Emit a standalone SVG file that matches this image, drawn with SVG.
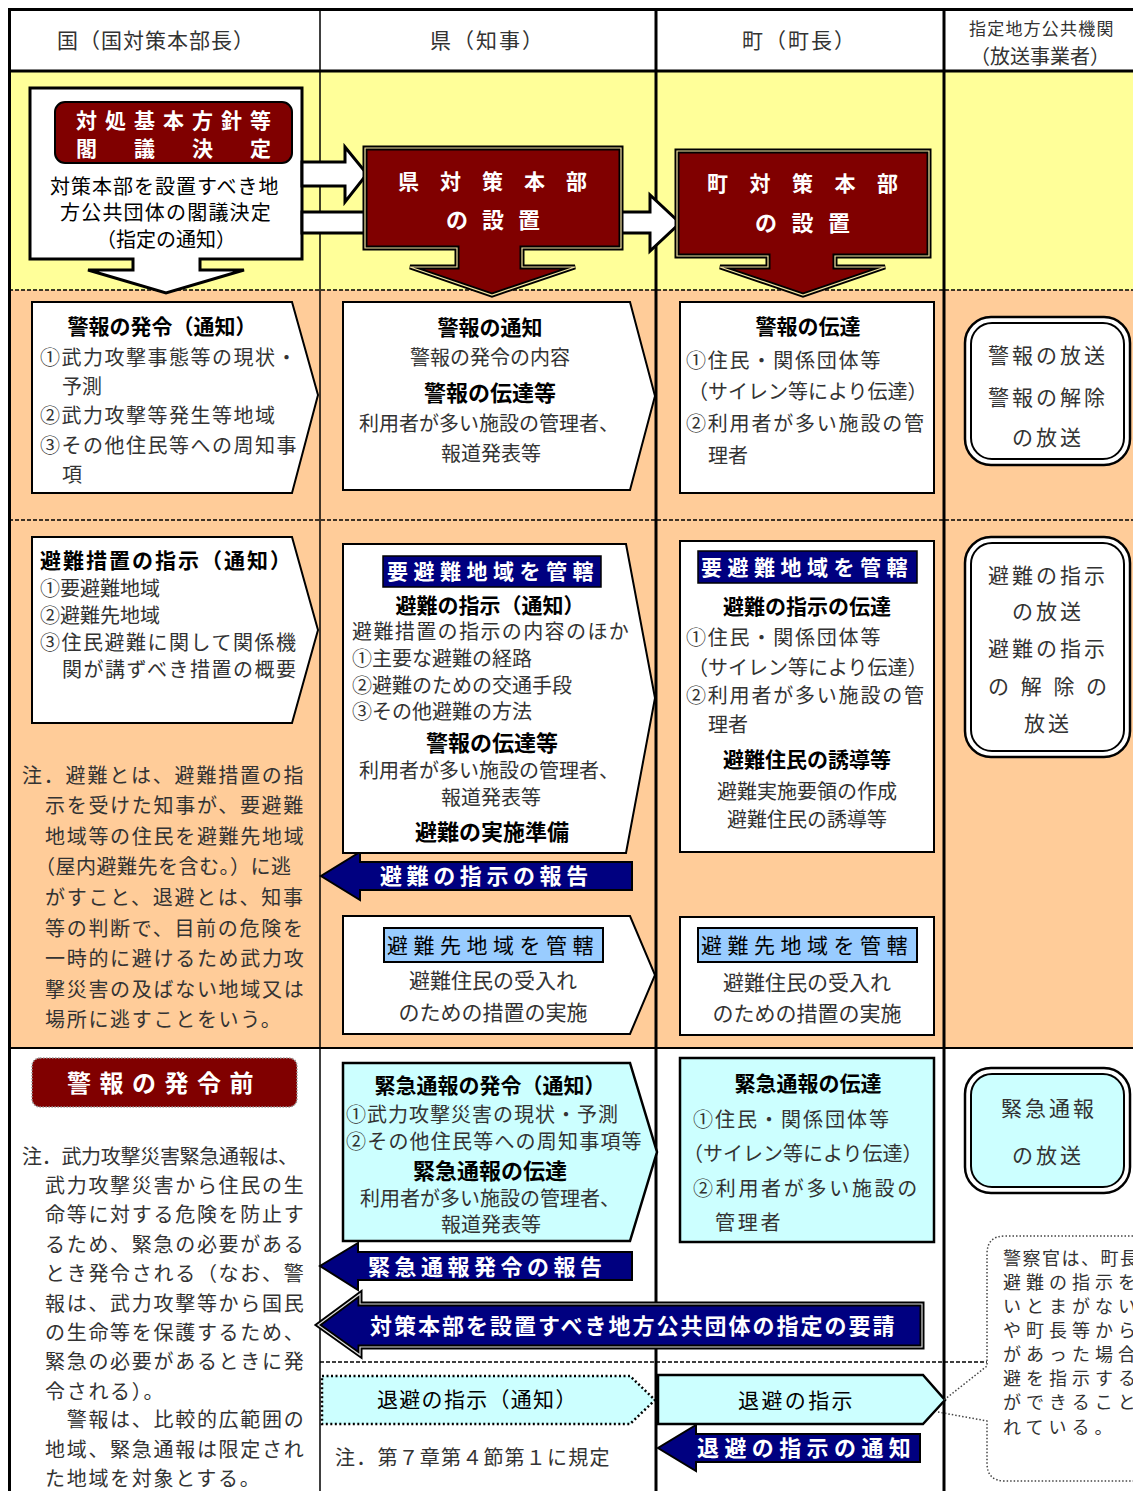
<svg xmlns="http://www.w3.org/2000/svg" width="1133" height="1491" viewBox="0 0 1133 1491">
<style>
text{font-family:"Noto Sans CJK JP","Noto Sans",sans-serif;font-size:20px;fill:#333}
.c{text-anchor:middle}
.b{font-weight:bold;fill:#000}
.w{fill:#fff;font-weight:bold}
.k{fill:#000}
.box{fill:#fff;stroke:#000;stroke-width:2}
.box3{fill:#fff;stroke:#000;stroke-width:3}
.cy{fill:#ccffff;stroke:#000;stroke-width:2.5}
.red{fill:#800000;stroke:#000;stroke-width:5}
.redin{fill:none;stroke:#f3e3a0;stroke-width:1.2}
.nv{fill:#000080;stroke:#000;stroke-width:2}
.nv2{fill:#000080;stroke:#000;stroke-width:5}
.nvin{fill:none;stroke:#ddd;stroke-width:1.2}
.wa{fill:#fff;stroke:#000;stroke-width:3}
.g{stroke:#000;fill:none}
.d{stroke-dasharray:4 2}
.lb{fill:#000080;stroke:#000;stroke-width:1.5}
.lb2{fill:#99ccff;stroke:#000;stroke-width:2}
.bc1{stroke:#000;stroke-width:2.5}
.bc2{stroke:#000;stroke-width:2}
.co{font-size:18px;letter-spacing:5px}
</style>

<g id="background">
<rect x="9" y="9" width="1124" height="62" fill="#fff"/>
<rect x="9" y="71" width="1124" height="219" fill="#ffff99"/>
<rect x="9" y="290" width="1124" height="758" fill="#ffcc99"/>
<rect x="9" y="1048" width="1124" height="443" fill="#fff"/>
</g>

<g id="grid">
<line class="g" x1="8" y1="9.5" x2="1133" y2="9.5" stroke-width="3"/>
<line class="g" x1="9.5" y1="8" x2="9.5" y2="1491" stroke-width="3"/>
<line class="g" x1="8" y1="71" x2="1133" y2="71" stroke-width="3"/>
<line class="g" x1="320" y1="9" x2="320" y2="1491" stroke-width="1.5"/>
<line class="g" x1="656" y1="9" x2="656" y2="1491" stroke-width="3"/>
<line class="g" x1="944" y1="9" x2="944" y2="1491" stroke-width="3"/>
<line class="g d" x1="9" y1="290" x2="1133" y2="290" stroke-width="1.5"/>
<line class="g d" x1="9" y1="520" x2="1133" y2="520" stroke-width="1.5"/>
<line class="g" x1="9" y1="1048" x2="1133" y2="1048" stroke-width="2"/>
<line class="g d" x1="320" y1="1362" x2="987" y2="1362" stroke-width="1.5"/>
</g>

<g id="headers">
<text x="57" y="48" style="font-size:21px;letter-spacing:1px">国（国対策本部長）</text>
<text x="430" y="48" style="font-size:21px;letter-spacing:2px">県（知事）</text>
<text x="742" y="48" style="font-size:21px;letter-spacing:2px">町（町長）</text>
<text x="969" y="35" style="font-size:17px;letter-spacing:1.2px">指定地方公共機関</text>
<text x="970" y="64" style="font-size:20px">（放送事業者）</text>
</g>

<g id="kuni-kakugi">
<polygon class="box3" points="30,88 302,88 302,259 200,259 200,270 244,270 166,293 88,270 133,270 133,259 30,259"/>
<rect x="55" y="102" width="237" height="61" rx="10" fill="#800000" stroke="#000" stroke-width="2"/>
<text class="w" x="76" y="128" style="font-size:21px;letter-spacing:8px">対処基本方針等</text>
<text class="w" x="76" y="156" style="font-size:21px;letter-spacing:37px">閣議決定</text>
<text class="k" x="50" y="194" style="letter-spacing:1px">対策本部を設置すべき地</text>
<text class="k" x="60" y="220" style="letter-spacing:1.2px">方公共団体の閣議決定</text>
<text class="k c" x="166" y="247">（指定の通知）</text>
</g>

<g id="connectors">
<polygon class="wa" points="302,162 345,162 345,147 367,174 345,202 345,186 302,186"/>
<polygon class="wa" points="302,212 650,212 650,195 680,223 650,251 650,233 302,233"/>
<g id="arrow-hinan-houkoku">
<polygon class="nv" points="632,862 360,862 360,852 321,876 360,900 360,890 632,890"/>
<text class="w" x="380" y="884" style="font-size:22px;letter-spacing:4.6px">避難の指示の報告</text>
</g>
<g id="arrow-kinkyu-houkoku">
<polygon class="nv" points="632,1252 358,1252 358,1243 320,1266 358,1290 358,1280 632,1280"/>
<text class="w" x="368" y="1275" style="font-size:22px;letter-spacing:4.5px">緊急通報発令の報告</text>
</g>
<g id="arrow-shitei-yousei">
<polygon class="nv2" points="922,1304 360,1304 360,1294 318,1325 360,1355 360,1347 922,1347"/>
<polygon class="nvin" points="922,1304 360,1304 360,1294 318,1325 360,1355 360,1347 922,1347"/>
<text class="w" x="370" y="1334" style="font-size:22px;letter-spacing:2px">対策本部を設置すべき地方公共団体の指定の要請</text>
</g>
<g id="arrow-taihi-tsuchi">
<polygon class="nv" points="920,1434 696,1434 696,1425 658,1448 696,1471 696,1462 920,1462"/>
<text class="w" x="697" y="1456" style="font-size:22px;letter-spacing:5.4px">退避の指示の通知</text>
</g>
</g>

<g id="ken-honbu">
<polygon class="red" points="365,148 621,148 621,248 522,248 522,267 575,267 492,295 410,267 457,267 457,248 365,248"/>
<polygon class="redin" points="365,148 621,148 621,248 522,248 522,267 575,267 492,295 410,267 457,267 457,248 365,248"/>
<text class="w" x="398" y="189" style="font-size:21px;letter-spacing:21px">県対策本部</text>
<text class="w" x="446" y="228" style="font-size:22px;letter-spacing:14px">の設置</text>
</g>

<g id="machi-honbu">
<polygon class="red" points="677,151 929,151 929,256 835,256 835,267 885,267 803,295 720,267 768,267 768,256 677,256"/>
<polygon class="redin" points="677,151 929,151 929,256 835,256 835,267 885,267 803,295 720,267 768,267 768,256 677,256"/>
<text class="w" x="707" y="191" style="font-size:21px;letter-spacing:21.5px">町対策本部</text>
<text class="w" x="755" y="231" style="font-size:22px;letter-spacing:14.5px">の設置</text>
</g>

<g id="kuni-keihou">
<polygon class="box" points="32,302 292,302 318,395 292,493 32,493"/>
<text class="b c" x="162" y="334" style="font-size:21px">警報の発令（通知）</text>
<text x="40" y="365" style="letter-spacing:1.5px">①武力攻撃事態等の現状・</text>
<text x="62" y="394">予測</text>
<text x="40" y="423" style="letter-spacing:1.5px">②武力攻撃等発生等地域</text>
<text x="40" y="453" style="letter-spacing:1.5px">③その他住民等への周知事</text>
<text x="62" y="482">項</text>
</g>

<g id="ken-keihou">
<polygon class="box" points="343,302 630,302 655,396 630,490 343,490"/>
<text class="b c" x="490" y="335" style="font-size:21px">警報の通知</text>
<text class="c" x="490" y="365">警報の発令の内容</text>
<text class="b c" x="490" y="401" style="font-size:22px">警報の伝達等</text>
<text class="c" x="489" y="431">利用者が多い施設の管理者、</text>
<text class="c" x="491" y="461">報道発表等</text>
</g>

<g id="machi-keihou">
<rect class="box" x="680" y="302" width="254" height="191"/>
<text class="b c" x="808" y="334" style="font-size:21px">警報の伝達</text>
<text x="686" y="368" style="letter-spacing:1.8px">①住民・関係団体等</text>
<text x="688" y="399">（サイレン等により伝達）</text>
<text x="686" y="431" style="letter-spacing:1.8px">②利用者が多い施設の管</text>
<text x="708" y="463">理者</text>
</g>

<g id="housou-keihou">
<rect class="bc1" x="965" y="317" width="165" height="148" rx="26" fill="#fff"/>
<rect class="bc2" x="971" y="323" width="153" height="136" rx="21" fill="#fff"/>
<text x="988" y="363" style="font-size:21px;letter-spacing:3px">警報の放送</text>
<text x="988" y="405" style="font-size:21px;letter-spacing:3px">警報の解除</text>
<text x="1012" y="445" style="font-size:21px;letter-spacing:3px">の放送</text>
</g>

<g id="kuni-hinan">
<polygon class="box" points="32,537 292,537 318,630 292,723 32,723"/>
<text class="b" x="40" y="568" style="font-size:21px;letter-spacing:2px">避難措置の指示（通知）</text>
<text x="40" y="596">①要避難地域</text>
<text x="40" y="623">②避難先地域</text>
<text x="40" y="650" style="letter-spacing:1.5px">③住民避難に関して関係機</text>
<text x="62" y="677" style="letter-spacing:1.5px">関が講ずべき措置の概要</text>
</g>

<g id="note-hinan">
<text x="22" y="783" style="letter-spacing:1.8px">注．避難とは、避難措置の指</text>
<text x="45" y="813" style="letter-spacing:1.7px">示を受けた知事が、要避難</text>
<text x="45" y="844" style="letter-spacing:1.7px">地域等の住民を避難先地域</text>
<text x="35" y="874" style="letter-spacing:0.5px">（屋内避難先を含む。）に逃</text>
<text x="45" y="905" style="letter-spacing:1.7px">がすこと、退避とは、知事</text>
<text x="45" y="936" style="letter-spacing:1.7px">等の判断で、目前の危険を</text>
<text x="45" y="966" style="letter-spacing:1.7px">一時的に避けるため武力攻</text>
<text x="45" y="997" style="letter-spacing:1.7px">撃災害の及ばない地域又は</text>
<text x="45" y="1027" style="letter-spacing:1.7px">場所に逃すことをいう。</text>
</g>

<g id="ken-hinan">
<polygon class="box" points="343,544 626,544 655,698 626,853 343,853"/>
<rect class="lb" x="383" y="556" width="218" height="31"/>
<text class="w" x="387" y="579" style="font-size:21px;letter-spacing:5.5px">要避難地域を管轄</text>
<text class="b c" x="490" y="613" style="font-size:21px">避難の指示（通知）</text>
<text x="352" y="639" style="letter-spacing:1.4px">避難措置の指示の内容のほか</text>
<text x="352" y="666">①主要な避難の経路</text>
<text x="352" y="693">②避難のための交通手段</text>
<text x="352" y="719">③その他避難の方法</text>
<text class="b c" x="492" y="751" style="font-size:22px">警報の伝達等</text>
<text class="c" x="489" y="778">利用者が多い施設の管理者、</text>
<text class="c" x="491" y="805">報道発表等</text>
<text class="b c" x="492" y="840" style="font-size:22px">避難の実施準備</text>
</g>

<g id="machi-hinan">
<rect class="box" x="680" y="541" width="254" height="311"/>
<rect class="lb" x="698" y="551" width="219" height="32"/>
<text class="w" x="701" y="575" style="font-size:21px;letter-spacing:5.5px">要避難地域を管轄</text>
<text class="b c" x="807" y="614" style="font-size:21px">避難の指示の伝達</text>
<text x="686" y="645" style="letter-spacing:1.8px">①住民・関係団体等</text>
<text x="688" y="675">（サイレン等により伝達）</text>
<text x="686" y="703" style="letter-spacing:1.8px">②利用者が多い施設の管</text>
<text x="708" y="732">理者</text>
<text class="b c" x="807" y="767" style="font-size:21px">避難住民の誘導等</text>
<text class="c" x="807" y="799">避難実施要領の作成</text>
<text class="c" x="807" y="827">避難住民の誘導等</text>
</g>

<g id="housou-hinan">
<rect class="bc1" x="965" y="537" width="165" height="220" rx="26" fill="#fff"/>
<rect class="bc2" x="971" y="543" width="153" height="208" rx="21" fill="#fff"/>
<text x="988" y="583" style="font-size:21px;letter-spacing:3px">避難の指示</text>
<text x="1012" y="619" style="font-size:21px;letter-spacing:3px">の放送</text>
<text x="988" y="656" style="font-size:21px;letter-spacing:3px">避難の指示</text>
<text x="988" y="694" style="font-size:21px;letter-spacing:11.7px">の解除の</text>
<text x="1024" y="731" style="font-size:21px;letter-spacing:3px">放送</text>
</g>

<g id="ken-ukeire">
<polygon class="box" points="343,916 630,916 655,975 630,1034 343,1034"/>
<rect class="lb2" x="384" y="928" width="219" height="34"/>
<text class="k" x="387" y="953" style="font-size:21px;letter-spacing:5.5px">避難先地域を管轄</text>
<text class="c" x="493" y="988" style="font-size:21px">避難住民の受入れ</text>
<text class="c" x="493" y="1020" style="font-size:21px">のための措置の実施</text>
</g>

<g id="machi-ukeire">
<rect class="box" x="680" y="917" width="254" height="118"/>
<rect class="lb2" x="698" y="928" width="219" height="34"/>
<text class="k" x="701" y="953" style="font-size:21px;letter-spacing:5.5px">避難先地域を管轄</text>
<text class="c" x="807" y="990" style="font-size:21px">避難住民の受入れ</text>
<text class="c" x="807" y="1021" style="font-size:21px">のための措置の実施</text>
</g>

<g id="keihou-hatsureimae">
<rect x="32" y="1058" width="265" height="49" rx="8" fill="#800000" stroke="#999" stroke-width="1.5" stroke-dasharray="1.5 1.5"/>
<text class="w" x="67" y="1092" style="font-size:24px;letter-spacing:8.5px">警報の発令前</text>
</g>

<g id="note-kinkyu">
<text x="22" y="1164" style="letter-spacing:-0.3px">注．武力攻撃災害緊急通報は、</text>
<text x="45" y="1193" style="letter-spacing:1.7px">武力攻撃災害から住民の生</text>
<text x="45" y="1222" style="letter-spacing:1.7px">命等に対する危険を防止す</text>
<text x="45" y="1252" style="letter-spacing:1.7px">るため、緊急の必要がある</text>
<text x="45" y="1281" style="letter-spacing:1.7px">とき発令される（なお、警</text>
<text x="45" y="1311" style="letter-spacing:1.7px">報は、武力攻撃等から国民</text>
<text x="45" y="1340" style="letter-spacing:1.7px">の生命等を保護するため、</text>
<text x="45" y="1369" style="letter-spacing:1.7px">緊急の必要があるときに発</text>
<text x="45" y="1399" style="letter-spacing:1.7px">令される）。</text>
<text x="45" y="1427" style="letter-spacing:1.7px">　警報は、比較的広範囲の</text>
<text x="45" y="1457" style="letter-spacing:1.7px">地域、緊急通報は限定され</text>
<text x="45" y="1486" style="letter-spacing:1.7px">た地域を対象とする。</text>
</g>

<g id="ken-kinkyu">
<polygon class="cy" points="343,1063 630,1063 657,1152 630,1241 343,1241"/>
<text class="b c" x="490" y="1093" style="font-size:21px">緊急通報の発令（通知）</text>
<text x="346" y="1122" style="letter-spacing:1px">①武力攻撃災害の現状・予測</text>
<text x="346" y="1149" style="letter-spacing:1.2px">②その他住民等への周知事項等</text>
<text class="b c" x="490" y="1179" style="font-size:22px">緊急通報の伝達</text>
<text class="c" x="490" y="1206">利用者が多い施設の管理者、</text>
<text class="c" x="491" y="1232">報道発表等</text>
</g>

<g id="machi-kinkyu">
<rect class="cy" x="680" y="1058" width="254" height="184"/>
<text class="b c" x="808" y="1091" style="font-size:21px">緊急通報の伝達</text>
<text x="693" y="1127" style="letter-spacing:2px">①住民・関係団体等</text>
<text x="683" y="1161">（サイレン等により伝達）</text>
<text x="693" y="1196" style="letter-spacing:2.7px">②利用者が多い施設の</text>
<text x="715" y="1230" style="letter-spacing:2.7px">管理者</text>
</g>

<g id="housou-kinkyu">
<rect class="bc1" x="965" y="1068" width="165" height="125" rx="26" fill="#fff"/>
<rect class="bc2" x="971" y="1074" width="153" height="113" rx="21" fill="#ccffff"/>
<text x="1001" y="1116" style="font-size:21px;letter-spacing:3px">緊急通報</text>
<text x="1012" y="1163" style="font-size:21px;letter-spacing:3px">の放送</text>
</g>

<g id="ken-taihi">
<polygon points="322,1376 630,1376 655,1400 630,1424 322,1424" fill="#ccffff" stroke="#000" stroke-width="2.5" stroke-dasharray="2 2.5"/>
<text class="k" x="377" y="1407" style="font-size:21px;letter-spacing:1.3px">退避の指示（通知）</text>
<text x="335" y="1465" style="letter-spacing:1.2px">注．第７章第４節第１に規定</text>
</g>

<g id="machi-taihi">
<polygon class="cy" points="658,1375 923,1375 945,1400 923,1424 658,1424"/>
<text class="k" x="738" y="1408" style="font-size:21px;letter-spacing:2.4px">退避の指示</text>
</g>

<g id="callout-keisatsu">
<path d="M1140,1236 H1005 Q987,1236 987,1254 V1463 Q987,1481 1005,1481 H1140 Z" fill="#fff"/>
<path d="M1140,1236 H1005 Q987,1236 987,1254 V1366 L944,1400 M938,1412 L987,1421 V1463 Q987,1481 1005,1481 H1140" fill="none" stroke="#444" stroke-width="1.5" stroke-dasharray="1.5 2"/>
<text class="co" x="1003" y="1265" style="letter-spacing:1.5px">警察官は、町長</text>
<text class="co" x="1003" y="1289">避難の指示を</text>
<text class="co" x="1003" y="1313">いとまがない</text>
<text class="co" x="1003" y="1337">や町長等から</text>
<text class="co" x="1003" y="1361">があった場合</text>
<text class="co" x="1003" y="1385">避を指示する</text>
<text class="co" x="1003" y="1409">ができること</text>
<text class="co" x="1003" y="1434">れている。</text>
</g>
</svg>
